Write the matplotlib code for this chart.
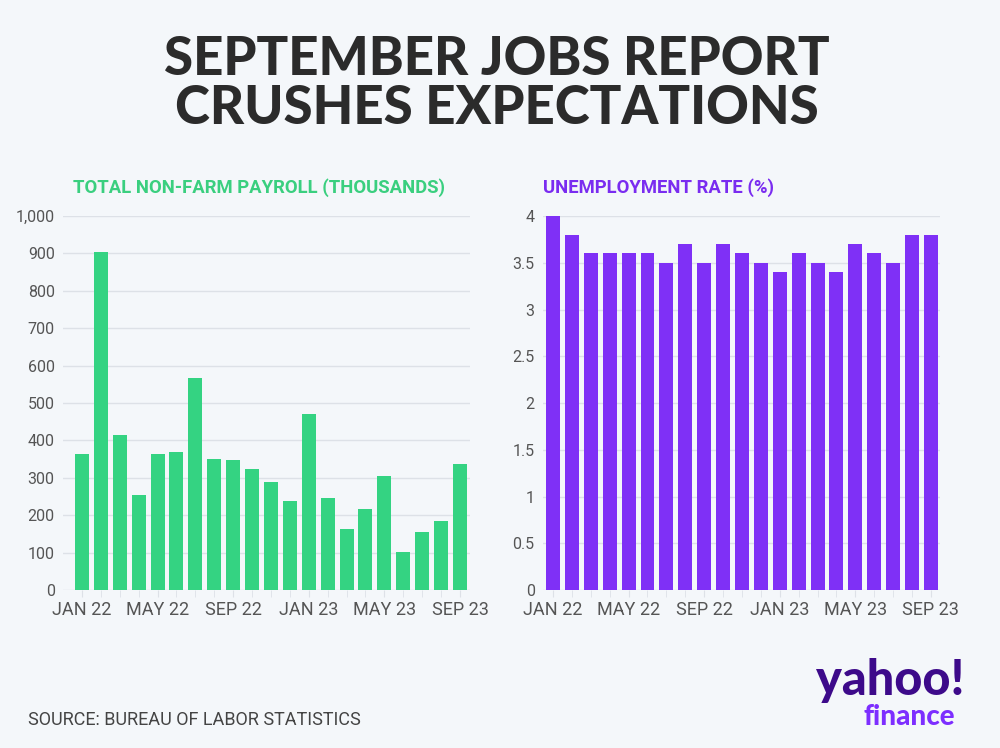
import matplotlib
matplotlib.use("Agg")
import matplotlib.pyplot as plt
from matplotlib import font_manager as fm
import numpy as np

months = ["JAN 22", "FEB 22", "MAR 22", "APR 22", "MAY 22", "JUN 22", "JUL 22",
          "AUG 22", "SEP 22", "OCT 22", "NOV 22", "DEC 22", "JAN 23", "FEB 23",
          "MAR 23", "APR 23", "MAY 23", "JUN 23", "JUL 23", "AUG 23", "SEP 23"]
payroll = [364, 904, 414, 253, 363, 369, 567, 351, 348, 323, 289, 238,
           471, 247, 163, 216, 304, 103, 156, 185, 336]
unemployment = [4.0, 3.8, 3.6, 3.6, 3.6, 3.6, 3.5, 3.7, 3.5, 3.7, 3.6, 3.5,
                3.4, 3.6, 3.5, 3.4, 3.7, 3.6, 3.5, 3.8, 3.8]
label_idx = [0, 4, 8, 12, 16, 20]
payroll_ticks = list(range(0, 1001, 100))
unemp_ticks = [0, 0.5, 1, 1.5, 2, 2.5, 3, 3.5, 4]

names = {f.name for f in fm.fontManager.ttflist}
narrow = "Liberation Sans Narrow" if "Liberation Sans Narrow" in names else "Roboto"
heavy = "Lato" if "Lato" in names else "DejaVu Sans"

BG = "#f4f7fa"
GREEN = "#34d382"
PURPLE = "#7f30f6"
GRID = "#dde1e7"
TICKC = "#555555"

fig = plt.figure(figsize=(10, 7.48), dpi=100, facecolor=BG)

fig.text(0.497, 0.921, "SEPTEMBER JOBS REPORT", ha="center", va="center",
         fontsize=38, fontweight="black", family=heavy, color="#2b2b2b")
fig.text(0.497, 0.855, "CRUSHES EXPECTATIONS", ha="center", va="center",
         fontsize=38, fontweight="black", family=heavy, color="#2b2b2b")


def style(ax, values, ticks, ticklabels, color, xlim):
    x = np.arange(len(values))
    ax.set_facecolor(BG)
    ax.bar(x, values, width=0.74, color=color, zorder=3)
    ax.set_xlim(*xlim)
    ax.set_yticks(ticks)
    ax.set_yticklabels(ticklabels)
    ax.set_ylim(ticks[0], ticks[-1])
    ax.set_xticks([x[i] for i in label_idx])
    ax.set_xticklabels([months[i] for i in label_idx])
    ax.set_xticks(x, minor=True)
    for s in ax.spines.values():
        s.set_visible(False)
    ax.grid(axis="y", color=GRID, linewidth=1, zorder=0)
    ax.tick_params(axis="y", length=0, pad=6, labelsize=11.5, labelcolor=TICKC)
    ax.tick_params(axis="x", which="both", length=5, color=GRID, pad=3,
                   labelsize=13, labelcolor=TICKC)
    for t in ax.get_xticklabels() + ax.get_yticklabels():
        t.set_family(narrow)


ax1 = fig.add_axes([0.063, 0.2112, 0.407, 0.5])
style(ax1, payroll, payroll_ticks, [f"{v:,}" for v in payroll_ticks], GREEN, (-1.0, 20.53))
ax2 = fig.add_axes([0.543, 0.2112, 0.397, 0.5])
style(ax2, unemployment, unemp_ticks, [f"{v:g}" for v in unemp_ticks], PURPLE, (-0.53, 20.48))

fig.text(0.259, 0.749, "TOTAL NON-FARM PAYROLL (THOUSANDS)", ha="center", va="center",
         fontsize=13.3, fontweight="bold", family=narrow, color="#3acf7f")
fig.text(0.543, 0.749, "UNEMPLOYMENT RATE (%)", ha="left", va="center",
         fontsize=13.3, fontweight="bold", family=narrow, color="#7a2cf0")

fig.text(0.028, 0.038, "SOURCE: BUREAU OF LABOR STATISTICS", ha="left", va="center",
         fontsize=13, family=narrow, color="#444444")

fig.text(0.89, 0.09, "yahoo!", ha="center", va="center", fontsize=35,
         fontweight="black", family=heavy, color="#3d0a8a")
fig.text(0.909, 0.041, "finance", ha="center", va="center", fontsize=20,
         fontweight="black", family=heavy, color="#7d2eff")

fig.savefig("out.png", dpi=100, facecolor=BG)
